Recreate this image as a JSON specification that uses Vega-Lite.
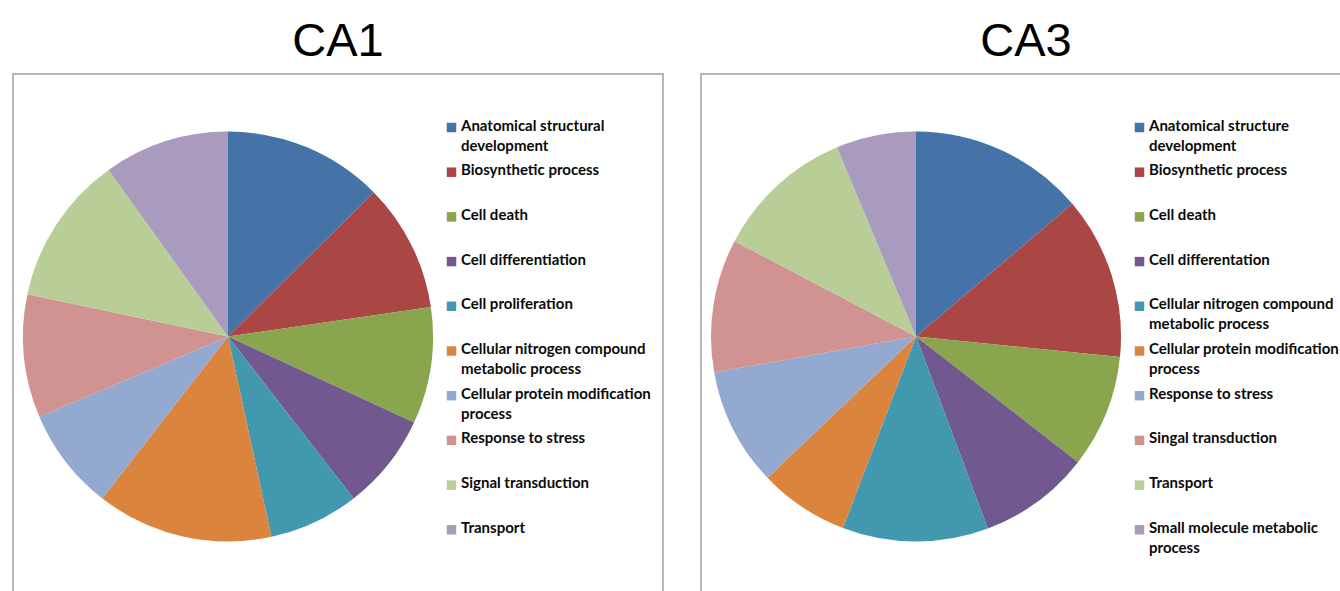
{
  "$schema": "https://vega.github.io/schema/vega-lite/v6.json",
  "background": "white",
  "padding": {"left": 12, "top": 17, "right": 0, "bottom": 0},
  "datasets": {
    "pies": [
      {"panel": "CA1", "category": "Anatomical structural development", "value": 12.6, "order": 1},
      {"panel": "CA1", "category": "Biosynthetic process", "value": 10.1, "order": 2},
      {"panel": "CA1", "category": "Cell death", "value": 9.2, "order": 3},
      {"panel": "CA1", "category": "Cell differentiation", "value": 7.6, "order": 4},
      {"panel": "CA1", "category": "Cell proliferation", "value": 7.1, "order": 5},
      {"panel": "CA1", "category": "Cellular nitrogen compound metabolic process", "value": 13.9, "order": 6},
      {"panel": "CA1", "category": "Cellular protein modification process", "value": 8.1, "order": 7},
      {"panel": "CA1", "category": "Response to stress", "value": 9.7, "order": 8},
      {"panel": "CA1", "category": "Signal transduction", "value": 11.8, "order": 9},
      {"panel": "CA1", "category": "Transport", "value": 9.9, "order": 10},
      {"panel": "CA3", "category": "Anatomical structure development", "value": 13.8, "order": 1},
      {"panel": "CA3", "category": "Biosynthetic process", "value": 12.8, "order": 2},
      {"panel": "CA3", "category": "Cell death", "value": 8.9, "order": 3},
      {"panel": "CA3", "category": "Cell differentation", "value": 8.8, "order": 4},
      {"panel": "CA3", "category": "Cellular nitrogen compound metabolic process", "value": 11.5, "order": 5},
      {"panel": "CA3", "category": "Cellular protein modification process", "value": 7.1, "order": 6},
      {"panel": "CA3", "category": "Response to stress", "value": 9.3, "order": 7},
      {"panel": "CA3", "category": "Singal transduction", "value": 10.5, "order": 8},
      {"panel": "CA3", "category": "Transport", "value": 11.0, "order": 9},
      {"panel": "CA3", "category": "Small molecule metabolic process", "value": 6.3, "order": 10}
    ]
  },
  "spacing": 36,
  "resolve": {"scale": {"color": "independent"}, "legend": {"color": "independent"}},
  "hconcat": [
    {
      "data": {"name": "pies"},
      "transform": [{"filter": "datum.panel == 'CA1'"}],
      "title": "CA1",
      "width": 650,
      "height": 525,
      "view": {"stroke": "#a0a0a0", "strokeWidth": 1.5},
      "mark": {"type": "arc", "outerRadius": 205, "x": 215},
      "encoding": {
        "theta": {"field": "value", "type": "quantitative", "stack": true},
        "order": {"field": "order", "type": "quantitative"},
        "color": {
          "field": "category", "type": "nominal",
          "sort": {"field": "order", "op": "min"},
          "scale": {"range": ["#4572A7", "#AA4643", "#89A54E", "#71588F", "#4198AF", "#DB843D", "#93A9CF", "#D19392", "#B9CD96", "#A99BBD"]},
          "legend": {
            "orient": "none", "legendX": 431, "legendY": 46, "title": null,
            "labelExpr": "length(datum.label) > 30 ? [substring(datum.label, 0, lastindexof(substring(datum.label, 0, 31), ' ')), substring(datum.label, lastindexof(substring(datum.label, 0, 31), ' ') + 1)] : datum.label",
            "encode": {"labels": {"update": {"dy": {"value": -9}, "lineHeight": {"value": 20}}}}
          }
        }
      }
    },
    {
      "data": {"name": "pies"},
      "transform": [{"filter": "datum.panel == 'CA3'"}],
      "title": "CA3",
      "width": 650,
      "height": 525,
      "view": {"stroke": "#a0a0a0", "strokeWidth": 1.5},
      "mark": {"type": "arc", "outerRadius": 205, "x": 215},
      "encoding": {
        "theta": {"field": "value", "type": "quantitative", "stack": true},
        "order": {"field": "order", "type": "quantitative"},
        "color": {
          "field": "category", "type": "nominal",
          "sort": {"field": "order", "op": "min"},
          "scale": {"range": ["#4572A7", "#AA4643", "#89A54E", "#71588F", "#4198AF", "#DB843D", "#93A9CF", "#D19392", "#B9CD96", "#A99BBD"]},
          "legend": {
            "orient": "none", "legendX": 431, "legendY": 46, "title": null,
            "labelExpr": "length(datum.label) > 30 ? [substring(datum.label, 0, lastindexof(substring(datum.label, 0, 31), ' ')), substring(datum.label, lastindexof(substring(datum.label, 0, 31), ' ') + 1)] : datum.label",
            "encode": {"labels": {"update": {"dy": {"value": -9}, "lineHeight": {"value": 20}}}}
          }
        }
      }
    }
  ],
  "config": {
    "title": {"font": "Liberation Sans", "fontSize": 47, "fontWeight": "normal", "color": "#000000", "offset": 8, "anchor": "middle"},
    "legend": {
      "padding": 0,
      "symbolType": "square",
      "symbolSize": 90,
      "symbolStrokeWidth": 0,
      "symbolOpacity": 1,
      "labelFont": "Lato",
      "labelFontSize": 15,
      "labelFontWeight": "bold",
      "labelColor": "#0a0a0a",
      "labelLimit": 400,
      "labelOffset": 2,
      "labelBaseline": "top",
      "gridAlign": "all",
      "rowPadding": 8.7
    }
  }
}
